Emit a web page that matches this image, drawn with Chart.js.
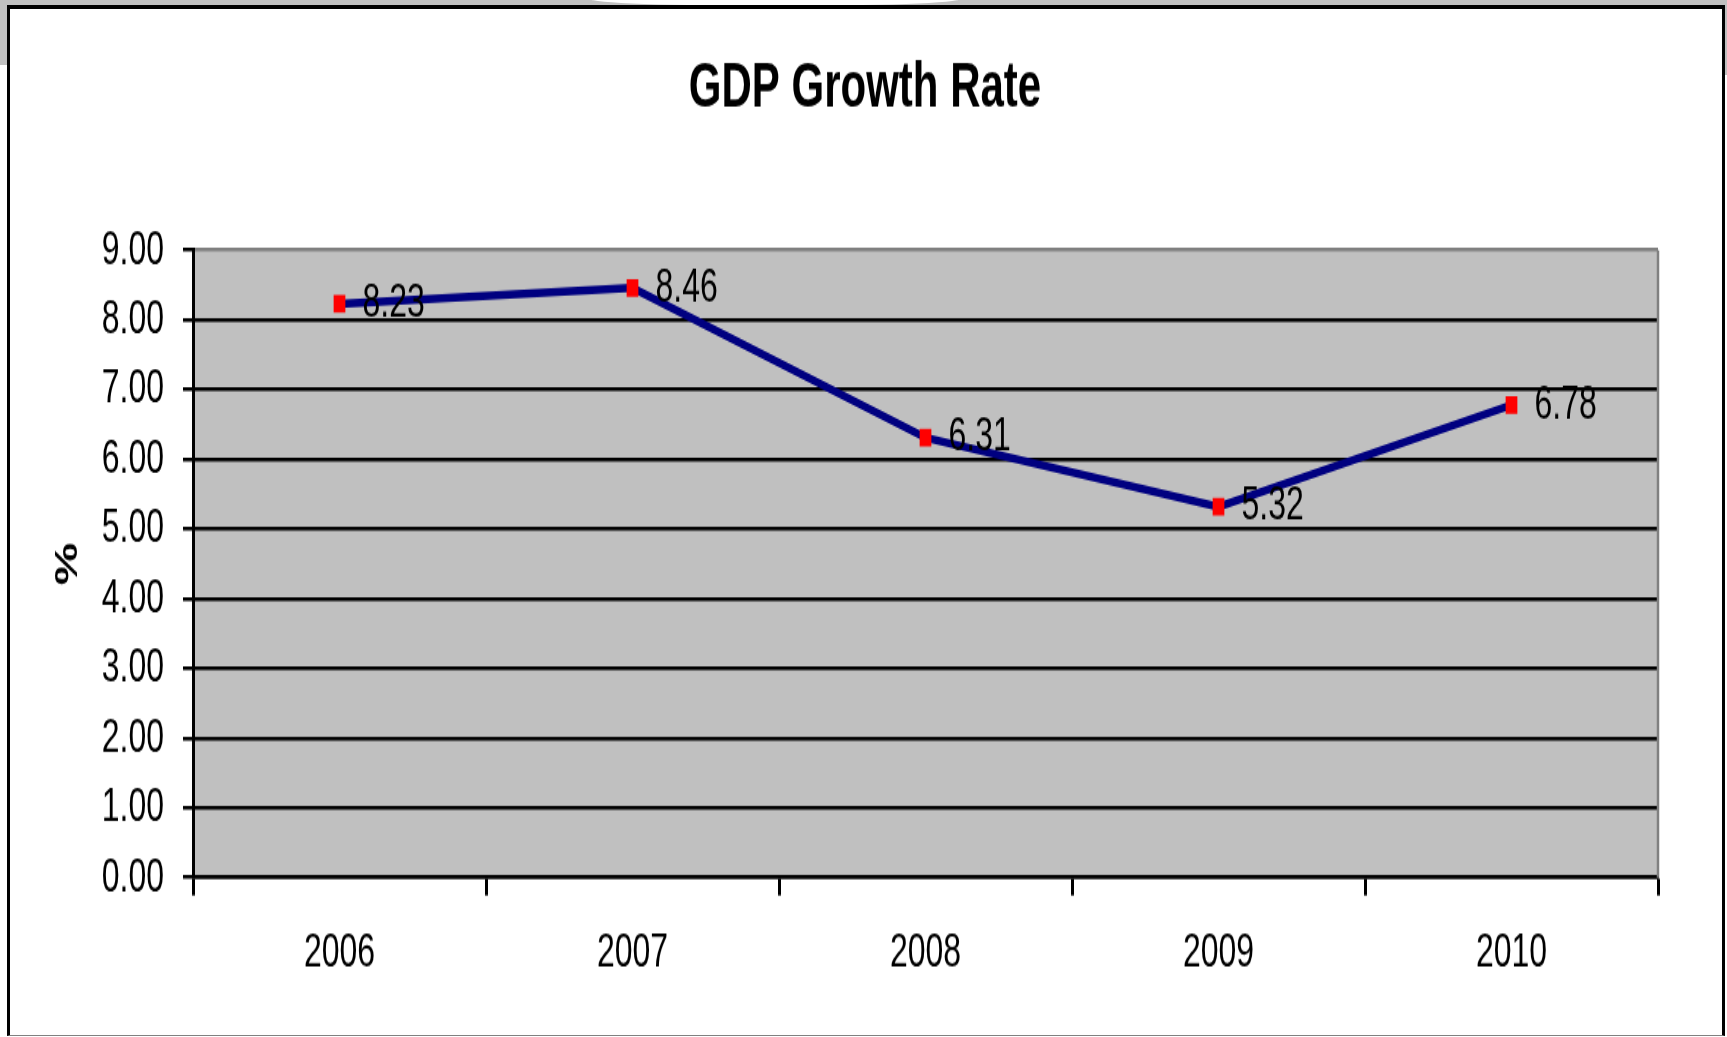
<!DOCTYPE html>
<html>
<head>
<meta charset="utf-8">
<script src="https://cdn.jsdelivr.net/npm/chart.js@4"></script>
<style>
  html, body { margin: 0; padding: 0; background: #ffffff; width: 1727px; height: 1037px; overflow: hidden; }
  .gray { position: absolute; background: #c0c0c0; }
  #frame { position: absolute; left: 7px; top: 5px; width: 1718px; height: 1031px; box-sizing: border-box;
           border-left: 3px solid #000; border-top: 4px solid #000; border-right: 3px solid #000; border-bottom: 1px solid #808080; background: #fff; }
  #arc { position: absolute; left: 590px; top: -8px; width: 370px; height: 14px; border-radius: 50%; background: #fff; }
  #chart { position: absolute; left: 0; top: 0; transform-origin: 0 0; transform: scaleY(1.50072); z-index: 2; }
</style>
</head>
<body>
<div class="gray" style="left:0;top:0;width:1727px;height:6px;"></div>
<div id="arc"></div>
<div class="gray" style="left:0;top:0;width:7px;height:65px;"></div>
<div class="gray" style="left:1725px;top:0;width:2px;height:75px;"></div>
<div id="frame"></div>
<canvas id="chart" width="1727" height="691" style="width:1727px;height:691px;"></canvas>
<script>
// ---- data ----
const categories = ['2006', '2007', '2008', '2009', '2010'];
const gdpGrowth = [8.23, 8.46, 6.31, 5.32, 6.78];
const yTickLabels = ['0.00', '1.00', '2.00', '3.00', '4.00', '5.00', '6.00', '7.00', '8.00', '9.00'];
const chartTitle = 'GDP Growth Rate';
const yAxisTitle = '%';

const FONT = '"Liberation Sans", Arial, sans-serif';

const plotBackground = {
  id: 'plotBackground',
  beforeDraw(chart) {
    const { ctx, chartArea: a } = chart;
    ctx.save();
    ctx.fillStyle = '#c0c0c0';
    ctx.fillRect(a.left, a.top, a.right - a.left, a.bottom - a.top);
    ctx.restore();
  },
  beforeDatasetsDraw(chart) {
    const { ctx, chartArea: a } = chart;
    ctx.save();
    ctx.strokeStyle = '#808080';
    ctx.lineWidth = 2.5;
    ctx.beginPath();
    ctx.moveTo(a.right, a.top);
    ctx.lineTo(a.right, a.bottom);
    ctx.stroke();
    ctx.restore();
  }
};

const valueLabels = {
  id: 'valueLabels',
  afterDatasetsDraw(chart) {
    const { ctx } = chart;
    const meta = chart.getDatasetMeta(0);
    ctx.save();
    ctx.font = '32px ' + FONT;
    ctx.fillStyle = '#000';
    ctx.textAlign = 'left';
    ctx.textBaseline = 'middle';
    meta.data.forEach((pt, i) => {
      ctx.fillText(gdpGrowth[i].toFixed(2), pt.x + 23, pt.y);
    });
    ctx.restore();
  }
};

new Chart(document.getElementById('chart'), {
  type: 'line',
  data: {
    labels: categories,
    datasets: [{
      data: gdpGrowth,
      borderColor: '#000080',
      borderWidth: 5.5,
      tension: 0,
      fill: false,
      pointStyle: 'rect',
      pointRadius: 8.3,
      pointHoverRadius: 8.3,
      pointBackgroundColor: '#ff0000',
      pointBorderColor: '#ff0000',
      pointBorderWidth: 0
    }]
  },
  options: {
    responsive: false,
    animation: false,
    events: [],
    layout: { padding: { left: 3, right: 0, top: 0, bottom: 0 } },
    plugins: {
      legend: { display: false },
      tooltip: { enabled: false },
      title: {
        display: true,
        text: chartTitle,
        color: '#000',
        font: { family: FONT, size: 42, weight: 'bold' },
        padding: { top: 33.8, bottom: 82.5 }
      }
    },
    scales: {
      x: {
        offset: true,
        grid: { offset: true, drawOnChartArea: false, drawTicks: true, tickLength: 12, tickWidth: 3, tickColor: '#000' },
        border: { display: true, color: '#000', width: 2.5 },
        ticks: { color: '#000', font: { family: FONT, size: 32 }, padding: 19, maxRotation: 0, autoSkip: false },
        afterFit(s) { s.height = 106.3; }
      },
      y: {
        min: 0,
        max: 9,
        ticks: {
          stepSize: 1,
          color: '#000',
          font: { family: FONT, size: 32 },
          padding: 19,
          callback: (v) => yTickLabels[Math.round(v)]
        },
        grid: {
          color: (c) => (c.tick && c.tick.value === 9) ? '#808080' : '#000',
          lineWidth: 2.5,
          tickLength: 10,
          tickColor: '#000',
          tickWidth: 2.5
        },
        border: { display: true, color: '#000', width: 3 },
        title: {
          display: true,
          text: yAxisTitle,
          color: '#000',
          font: { family: FONT, size: 32, weight: 'bold' },
          padding: { top: 45.8, bottom: 0 }
        },
        afterFit(s) { s.width = 190; }
      },
      yRightSpace: {
        type: 'linear',
        position: 'right',
        display: true,
        min: 0,
        max: 9,
        grid: { display: false, drawTicks: false },
        border: { display: false },
        ticks: { display: false },
        afterFit(s) { s.width = 69; }
      }
    }
  },
  plugins: [plotBackground, valueLabels]
});
</script>
</body>
</html>
